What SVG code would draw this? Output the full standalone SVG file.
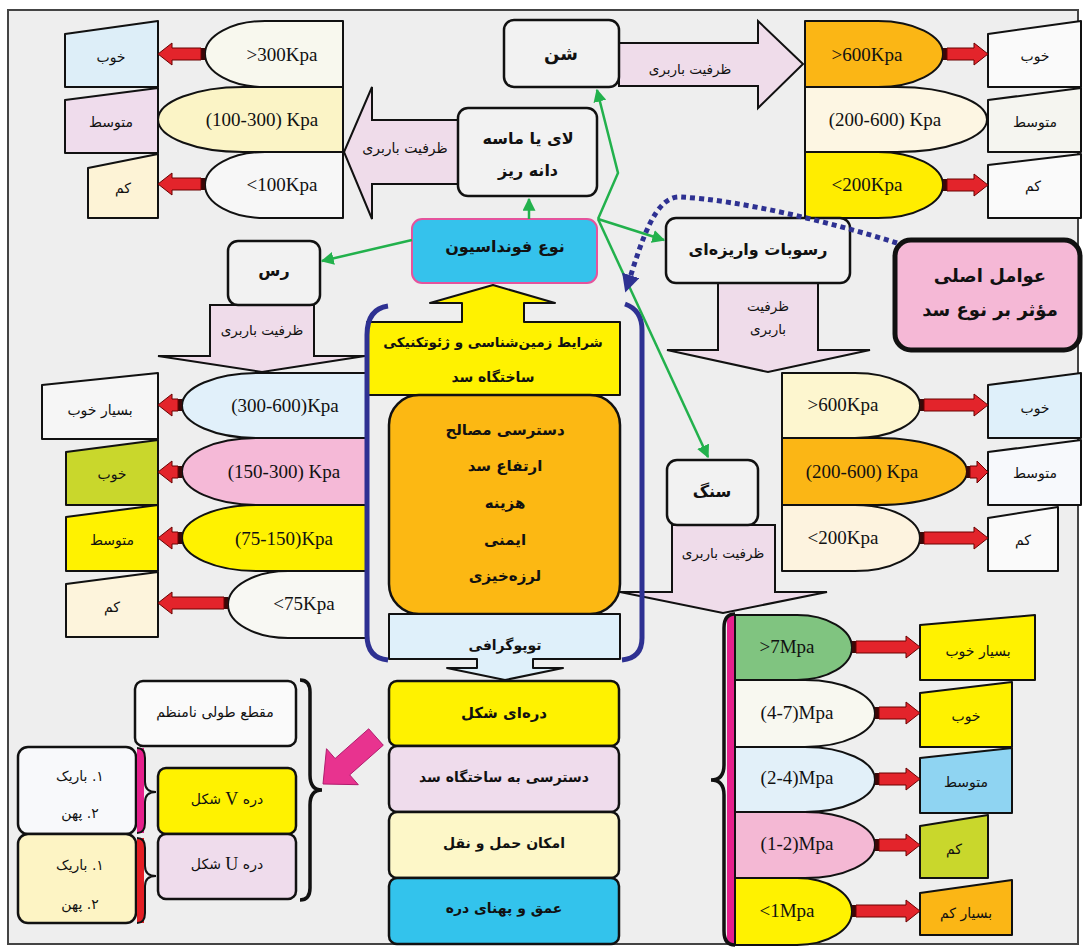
<svg xmlns="http://www.w3.org/2000/svg" width="1083" height="950" viewBox="0 0 1083 950">
<defs>
<style>
.p{font-family:"DejaVu Sans","Noto Sans",sans-serif;text-anchor:middle;dominant-baseline:central;fill:#111}
.rt{direction:rtl;unicode-bidi:embed}
.s{font-size:14px}
.x{font-size:13.5px}
.m{font-size:14px}
.b{font-weight:bold;font-size:16px}
.k{font-family:"Liberation Serif",serif;font-size:19px;text-anchor:middle;dominant-baseline:central;fill:#111}
.sh{stroke:#111;stroke-width:2;stroke-linejoin:round}
.rb{stroke:#111;stroke-width:2.5}
.ra{fill:#e3242b;stroke:#6b0000;stroke-width:1}
.band{fill:#3a0808}
.bar{fill:#efdcea;stroke:#111;stroke-width:2}
.g{fill:none;stroke:#22b14c;stroke-width:2.5;marker-end:url(#ga)}
</style>
<marker id="ga" viewBox="0 0 10 10" refX="9" refY="5" markerWidth="13" markerHeight="13" markerUnits="userSpaceOnUse" orient="auto"><path d="M0 0 L10 5 L0 10 z" fill="#22b14c"/></marker>
<marker id="ba" viewBox="0 0 10 10" refX="5" refY="5" markerWidth="18" markerHeight="18" markerUnits="userSpaceOnUse" orient="auto"><path d="M0 0 L10 5 L0 10 z" fill="#2e3192"/></marker>
</defs>
<rect x="0" y="0" width="1083" height="950" fill="#ffffff"/>
<rect x="8" y="10" width="1070" height="934" fill="#eeeeee" stroke="#444" stroke-width="2"/>

<!-- big pink capacity arrows -->
<g id="arrows-capacity">
<polygon class="bar" points="458,120 372,120 372,87 344,152 372,219 372,184 458,184"/>
<text class="p m" x="405" y="148">ظرفیت باربری</text>
<polygon class="bar" points="619,43 758,43 758,21 803,64 758,108 758,86 619,86"/>
<text class="p x" x="690" y="69">ظرفیت باربری</text>
<polygon class="bar" points="210,305 314,305 314,356 365,356 262,372 158,356 210,356"/>
<text class="p x" x="262" y="330">ظرفیت باربری</text>
<polygon class="bar" points="718,283 818,283 818,350 870,350 768,372 667,350 718,350"/>
<text class="p x" x="768" y="306">ظرفیت</text>
<text class="p x" x="768" y="329">باربری</text>
<polygon class="bar" points="672,525 775,525 775,592 827,592 723,613 620,592 672,592"/>
<text class="p x" x="723" y="553">ظرفیت باربری</text>
</g>

<!-- top-left: silt / fine sand -->
<g id="n-silt-values">
<path class="sh" fill="#f8f8ee" d="M343 21 H265 A60 33 0 0 0 265 87 H343 Z"/>
<text class="k" x="282" y="54">&gt;300Kpa</text>
<path class="sh" fill="#fbf4c6" d="M343 87 H243 A85 32.5 0 0 0 243 152 H343 Z"/>
<text class="k" x="262" y="119">(100-300) Kpa</text>
<path class="sh" fill="#f7f7f7" d="M343 152 H265 A60 33 0 0 0 265 218 H343 Z"/>
<text class="k" x="282" y="184">&lt;100Kpa</text>
<polygon class="sh" fill="#ddeef8" points="65,34 158,21 158,87 65,87"/>
<text class="p s" x="111" y="57">خوب</text>
<polygon class="sh" fill="#efdcec" points="65,100 158,88 158,153 65,153"/>
<text class="p s" x="111" y="122">متوسط</text>
<polygon class="sh" fill="#fdf3d6" points="88,168 158,154 158,218 88,218"/>
<text class="p s" x="123" y="188">کم</text>
<rect class="band" x="201" y="48" width="4" height="12"/>
<path class="ra" d="M201 48 H172 V43 L158 54 L172 65 V60 H201 Z"/>
<rect class="band" x="201" y="178" width="4" height="12"/>
<path class="ra" d="M201 178 H172 V173 L158 184 L172 195 V190 H201 Z"/>
</g>

<!-- top-right: gravel values -->
<g id="n-gravel-values">
<path class="sh" fill="#fbb615" d="M805 21 H878 A65 33 0 0 1 878 87 H805 Z"/>
<text class="k" x="867" y="54">&gt;600Kpa</text>
<path class="sh" fill="#fdf6e3" d="M805 87 H897 A90 32.5 0 0 1 897 152 H805 Z"/>
<text class="k" x="885" y="119">(200-600) Kpa</text>
<path class="sh" fill="#ffed00" d="M805 152 H878 A65 33 0 0 1 878 218 H805 Z"/>
<text class="k" x="867" y="184">&lt;200Kpa</text>
<polygon class="sh" fill="#fafafa" points="988,34 1081,21 1081,87 988,87"/>
<text class="p s" x="1035" y="56">خوب</text>
<polygon class="sh" fill="#f5f5f0" points="988,100 1081,88 1081,152 988,152"/>
<text class="p s" x="1035" y="122">متوسط</text>
<polygon class="sh" fill="#fafafa" points="988,165 1081,154 1081,218 988,218"/>
<text class="p s" x="1033" y="186">کم</text>
<rect class="band" x="943" y="48" width="4" height="12"/>
<path class="ra" d="M947 48 H974 V43 L988 54 L974 65 V60 H947 Z"/>
<rect class="band" x="943" y="179" width="4" height="12"/>
<path class="ra" d="M947 179 H974 V174 L988 185 L974 196 V191 H947 Z"/>
</g>

<!-- left-middle: clay values -->
<g id="n-clay-values">
<path class="sh" fill="#e1f0fa" d="M368 373 H257 A75 32.5 0 0 0 257 438 H368 Z"/>
<text class="k" x="285" y="405">(300-600)Kpa</text>
<path class="sh" fill="#f5b9d7" d="M368 438 H257 A75 33.5 0 0 0 257 505 H368 Z"/>
<text class="k" x="284" y="471">(150-300) Kpa</text>
<path class="sh" fill="#fff200" d="M368 505 H257 A75 33 0 0 0 257 571 H368 Z"/>
<text class="k" x="284" y="538">(75-150)Kpa</text>
<path class="sh" fill="#f8f8f3" d="M368 571 H288 A60 33.5 0 0 0 288 638 H368 Z"/>
<text class="k" x="304" y="603">&lt;75Kpa</text>
<polygon class="sh" fill="#f6f6f6" points="42,385 158,373 158,439 42,439"/>
<text class="p s" x="100" y="410">بسیار خوب</text>
<polygon class="sh" fill="#c9d72c" points="66,452 158,440 158,505 66,505"/>
<text class="p s" x="112" y="474">خوب</text>
<polygon class="sh" fill="#fff200" points="66,517 158,505 158,571 66,571"/>
<text class="p s" x="112" y="540">متوسط</text>
<polygon class="sh" fill="#fdf4dc" points="66,584 158,572 158,637 66,637"/>
<text class="p s" x="112" y="607">کم</text>
<rect class="band" x="178" y="399" width="4" height="12"/>
<path class="ra" d="M178 399 H172 V394 L158 405 L172 416 V411 H178 Z"/>
<rect class="band" x="178" y="466" width="4" height="12"/>
<path class="ra" d="M178 466 H172 V461 L158 472 L172 483 V478 H178 Z"/>
<rect class="band" x="178" y="532" width="4" height="12"/>
<path class="ra" d="M178 532 H172 V527 L158 538 L172 549 V544 H178 Z"/>
<rect class="band" x="224" y="597" width="4" height="12"/>
<path class="ra" d="M224 597 H172 V592 L158 603 L172 614 V609 H224 Z"/>
</g>

<!-- right-middle: alluvium values -->
<g id="n-alluvium-values">
<path class="sh" fill="#fdf6cf" d="M782 373 H855 A65 32.5 0 0 1 855 438 H782 Z"/>
<text class="k" x="843" y="404">&gt;600Kpa</text>
<path class="sh" fill="#fbb615" d="M782 438 H877 A90 33.5 0 0 1 877 505 H782 Z"/>
<text class="k" x="862" y="471">(200-600) Kpa</text>
<path class="sh" fill="#fdf3df" d="M782 505 H855 A65 33 0 0 1 855 571 H782 Z"/>
<text class="k" x="843" y="537">&lt;200Kpa</text>
<polygon class="sh" fill="#dff0fa" points="988,385 1081,373 1081,438 988,438"/>
<text class="p s" x="1035" y="408">خوب</text>
<polygon class="sh" fill="#f7f9fc" points="988,452 1081,440 1081,505 988,505"/>
<text class="p s" x="1035" y="473">متوسط</text>
<polygon class="sh" fill="#fafafa" points="988,518 1058,507 1058,571 988,571"/>
<text class="p s" x="1023" y="540">کم</text>
<rect class="band" x="920" y="399" width="4" height="12"/>
<path class="ra" d="M924 399 H974 V394 L988 405 L974 416 V411 H924 Z"/>
<rect class="band" x="966" y="466" width="4" height="12"/>
<path class="ra" d="M970 466 H977 V461 L988 472 L977 483 V478 H970 Z"/>
<rect class="band" x="920" y="532" width="4" height="12"/>
<path class="ra" d="M924 532 H974 V527 L988 538 L974 549 V544 H924 Z"/>
</g>

<!-- bottom-right: rock values -->
<g id="n-rock-values">
<rect x="727" y="616" width="8" height="328" fill="#e6208c"/>
<path d="M735 614 Q724 614 724 628 V765 Q724 780 711 780 Q724 780 724 795 V931 Q724 945 735 945" fill="none" stroke="#111" stroke-width="3.5"/>
<path class="sh" fill="#80c480" d="M735 615 H797 A55 32.5 0 0 1 797 680 H735 Z"/>
<text class="k" x="787" y="646">&gt;7Mpa</text>
<path class="sh" fill="#f8f8f0" d="M735 680 H805 A70 33.5 0 0 1 805 747 H735 Z"/>
<text class="k" x="797" y="712">(4-7)Mpa</text>
<path class="sh" fill="#e2f0f9" d="M735 747 H805 A70 32.5 0 0 1 805 812 H735 Z"/>
<text class="k" x="797" y="777">(2-4)Mpa</text>
<path class="sh" fill="#f4b8d4" d="M735 812 H805 A70 33 0 0 1 805 878 H735 Z"/>
<text class="k" x="797" y="843">(1-2)Mpa</text>
<path class="sh" fill="#fff200" d="M735 878 H797 A55 33.5 0 0 1 797 945 H735 Z"/>
<text class="k" x="787" y="910">&lt;1Mpa</text>
<polygon class="sh" fill="#fff200" points="920,625 1035,615 1035,680 920,680"/>
<text class="p s" x="978" y="651">بسیار خوب</text>
<polygon class="sh" fill="#fff200" points="920,693 1012,682 1012,747 920,747"/>
<text class="p s" x="966" y="716">خوب</text>
<polygon class="sh" fill="#8fd4f2" points="920,758 1012,748 1012,813 920,813"/>
<text class="p s" x="966" y="782">متوسط</text>
<polygon class="sh" fill="#c9d72c" points="920,826 988,815 988,878 920,878"/>
<text class="p s" x="954" y="849">کم</text>
<polygon class="sh" fill="#fbb615" points="920,893 1012,880 1012,935 920,935"/>
<text class="p s" x="966" y="913">بسیار کم</text>
<rect class="band" x="852" y="641" width="4" height="12"/>
<path class="ra" d="M856 641 H906 V636 L920 647 L906 658 V653 H856 Z"/>
<rect class="band" x="875" y="707" width="4" height="12"/>
<path class="ra" d="M879 707 H906 V702 L920 713 L906 724 V719 H879 Z"/>
<rect class="band" x="875" y="773" width="4" height="12"/>
<path class="ra" d="M879 773 H906 V768 L920 779 L906 790 V785 H879 Z"/>
<rect class="band" x="875" y="839" width="4" height="12"/>
<path class="ra" d="M879 839 H906 V834 L920 845 L906 856 V851 H879 Z"/>
<rect class="band" x="852" y="905" width="4" height="12"/>
<path class="ra" d="M856 905 H906 V900 L920 911 L906 922 V917 H856 Z"/>
</g>

<!-- main nodes -->
<g id="n-silt"><rect class="rb" x="458" y="108" width="139" height="88" rx="10" fill="#f2f2f2"/>
<text class="p b" x="528" y="138">لای یا ماسه</text><text class="p b" x="528" y="170">دانه ریز</text></g>
<g id="n-gravel"><rect class="rb" x="504" y="20" width="115" height="67" rx="10" fill="#f2f2f2"/>
<text class="p b" x="561" y="53" style="font-size:18px">شن</text></g>
<g id="n-foundation"><rect x="412" y="219" width="185" height="64" rx="10" fill="#35c2ec" stroke="#e5539c" stroke-width="2"/>
<text class="p b" x="505" y="246">نوع فونداسیون</text></g>
<g id="n-clay"><rect class="rb" x="228" y="241" width="92" height="64" rx="10" fill="#f2f2f2"/>
<text class="p b" x="274" y="270">رس</text></g>
<g id="n-alluvium"><rect class="rb" x="666" y="218" width="184" height="65" rx="10" fill="#f2f2f2"/>
<text class="p b" x="758" y="249">رسوبات واریزه&#8204;ای</text></g>
<g id="n-rock"><rect class="rb" x="667" y="460" width="91" height="65" rx="10" fill="#f2f2f2"/>
<text class="p b" x="712" y="491">سنگ</text></g>
<g id="n-factors"><rect x="895" y="240" width="185" height="110" rx="16" fill="#f5b8d6" stroke="#111" stroke-width="5"/>
<text class="p b" x="990" y="275" style="font-size:18px">عوامل اصلی</text>
<text class="p b" x="990" y="309" style="font-size:18px">مؤثر بر نوع سد</text></g>

<g id="n-geology">
<polygon class="sh" fill="#fff200" points="367,395 367,322 462,322 462,303 430,303 493,285 555,303 524,303 524,322 620,322 620,395"/>
<text class="p b" x="493" y="342" style="font-size:13.5px">شرایط زمین&#8204;شناسی و ژئوتکنیکی</text>
<text class="p b" x="493" y="377" style="font-size:14px">ساختگاه سد</text>
</g>
<g id="n-criteria">
<rect class="rb" x="389" y="395" width="231" height="219" rx="30" fill="#fcb813"/>
<text class="p b" x="505" y="430" style="font-size:15px">دسترسی مصالح</text>
<text class="p b" x="505" y="466" style="font-size:15px">ارتفاع سد</text>
<text class="p b" x="505" y="503" style="font-size:15px">هزینه</text>
<text class="p b" x="505" y="540" style="font-size:15px">ایمنی</text>
<text class="p b" x="505" y="576" style="font-size:15px">لرزه&#8204;خیزی</text>
</g>
<g id="n-topography">
<polygon class="sh" fill="#dff0fa" points="389,614 620,614 620,659 533,659 533,668 563,668 505,680 447,668 477,668 477,659 389,659"/>
<text class="p b" x="505" y="645" style="font-size:14px">توپوگرافی</text>
</g>
<g id="n-bracket" fill="none" stroke="#2e3192" stroke-width="5">
<path d="M388 306 Q367 309 367 335 V635 Q367 658 388 660"/>
<path d="M625 304 Q642 310 642 330 V638 Q642 658 622 660"/>
</g>

<g id="n-valley-list">
<rect class="rb" x="389" y="681" width="230" height="65" rx="8" fill="#fff200"/>
<text class="p b" x="504" y="713" style="font-size:15px">دره&#8204;ای شکل</text>
<rect class="rb" x="389" y="746" width="230" height="66" rx="8" fill="#efdcec"/>
<text class="p b" x="504" y="777" style="font-size:14px">دسترسی به ساختگاه سد</text>
<rect class="rb" x="389" y="812" width="230" height="66" rx="8" fill="#fdf7c8"/>
<text class="p b" x="504" y="843" style="font-size:14px">امکان حمل و نقل</text>
<rect class="rb" x="389" y="878" width="230" height="66" rx="8" fill="#33c3ec"/>
<text class="p b" x="504" y="908" style="font-size:14px">عمق و پهنای دره</text>
</g>

<g id="n-valley-shapes">
<rect class="rb" x="135" y="681" width="161" height="65" rx="8" fill="#fafafa"/>
<text class="p m" x="215" y="712">مقطع طولی نامنظم</text>
<rect class="rb" x="158" y="768" width="138" height="66" rx="8" fill="#fff200"/>
<text class="p m rt" x="227" y="799" direction="rtl">دره <tspan style="font-family:'Liberation Serif',serif;font-size:18px">V</tspan> شکل</text>
<rect class="rb" x="158" y="834" width="138" height="65" rx="8" fill="#efdcec"/>
<text class="p m rt" x="227" y="864" direction="rtl">دره <tspan style="font-family:'Liberation Serif',serif;font-size:18px">U</tspan> شکل</text>
<path d="M300 680 Q310 680 310 692 V775 Q310 790 322 790 Q310 790 310 805 V888 Q310 900 300 900" fill="none" stroke="#111" stroke-width="3.5"/>
<rect class="rb" x="18" y="747" width="118" height="87" rx="10" fill="#f8f9fb"/>
<text class="p m rt" x="80" y="776" direction="rtl">۱. باریک</text>
<text class="p m rt" x="80" y="813" direction="rtl">۲. پهن</text>
<rect class="rb" x="18" y="834" width="118" height="89" rx="10" fill="#fdf4c4"/>
<text class="p m rt" x="80" y="865" direction="rtl">۱. باریک</text>
<text class="p m rt" x="80" y="904" direction="rtl">۲. پهن</text>
<rect x="137" y="748" width="7" height="85" fill="#e6208c"/>
<path d="M137 748 Q145 748 145 758 V782 Q145 792 156 792 Q145 792 145 802 V823 Q145 833 137 833" fill="none" stroke="#111" stroke-width="2"/>
<rect x="137" y="838" width="7" height="85" fill="#e31e24"/>
<path d="M137 838 Q145 838 145 848 V866 Q145 876 156 876 Q145 876 145 886 V913 Q145 923 137 923" fill="none" stroke="#111" stroke-width="2"/>
<polygon points="368.7,728.8 335.1,758.5 326.5,748.7 323,784 358.3,784.7 349.7,774.9 383.3,745.2" fill="#e8338f" stroke="#b01c6e" stroke-width="1"/>
</g>

<!-- connectors -->
<g id="connectors">
<polyline class="g" points="598,219 618,173 597,90"/>
<line class="g" x1="529" y1="219" x2="529" y2="199"/>
<line class="g" x1="598" y1="219" x2="664" y2="240"/>
<line class="g" x1="598" y1="219" x2="708" y2="457"/>
<line class="g" x1="412" y1="240" x2="322" y2="261"/>
<path d="M897 243 C830 222 740 200 680 197 C655 196 642 240 628 284" fill="none" stroke="#2e3192" stroke-width="5" stroke-dasharray="5 4" marker-end="url(#ba)"/>
</g>
</svg>
